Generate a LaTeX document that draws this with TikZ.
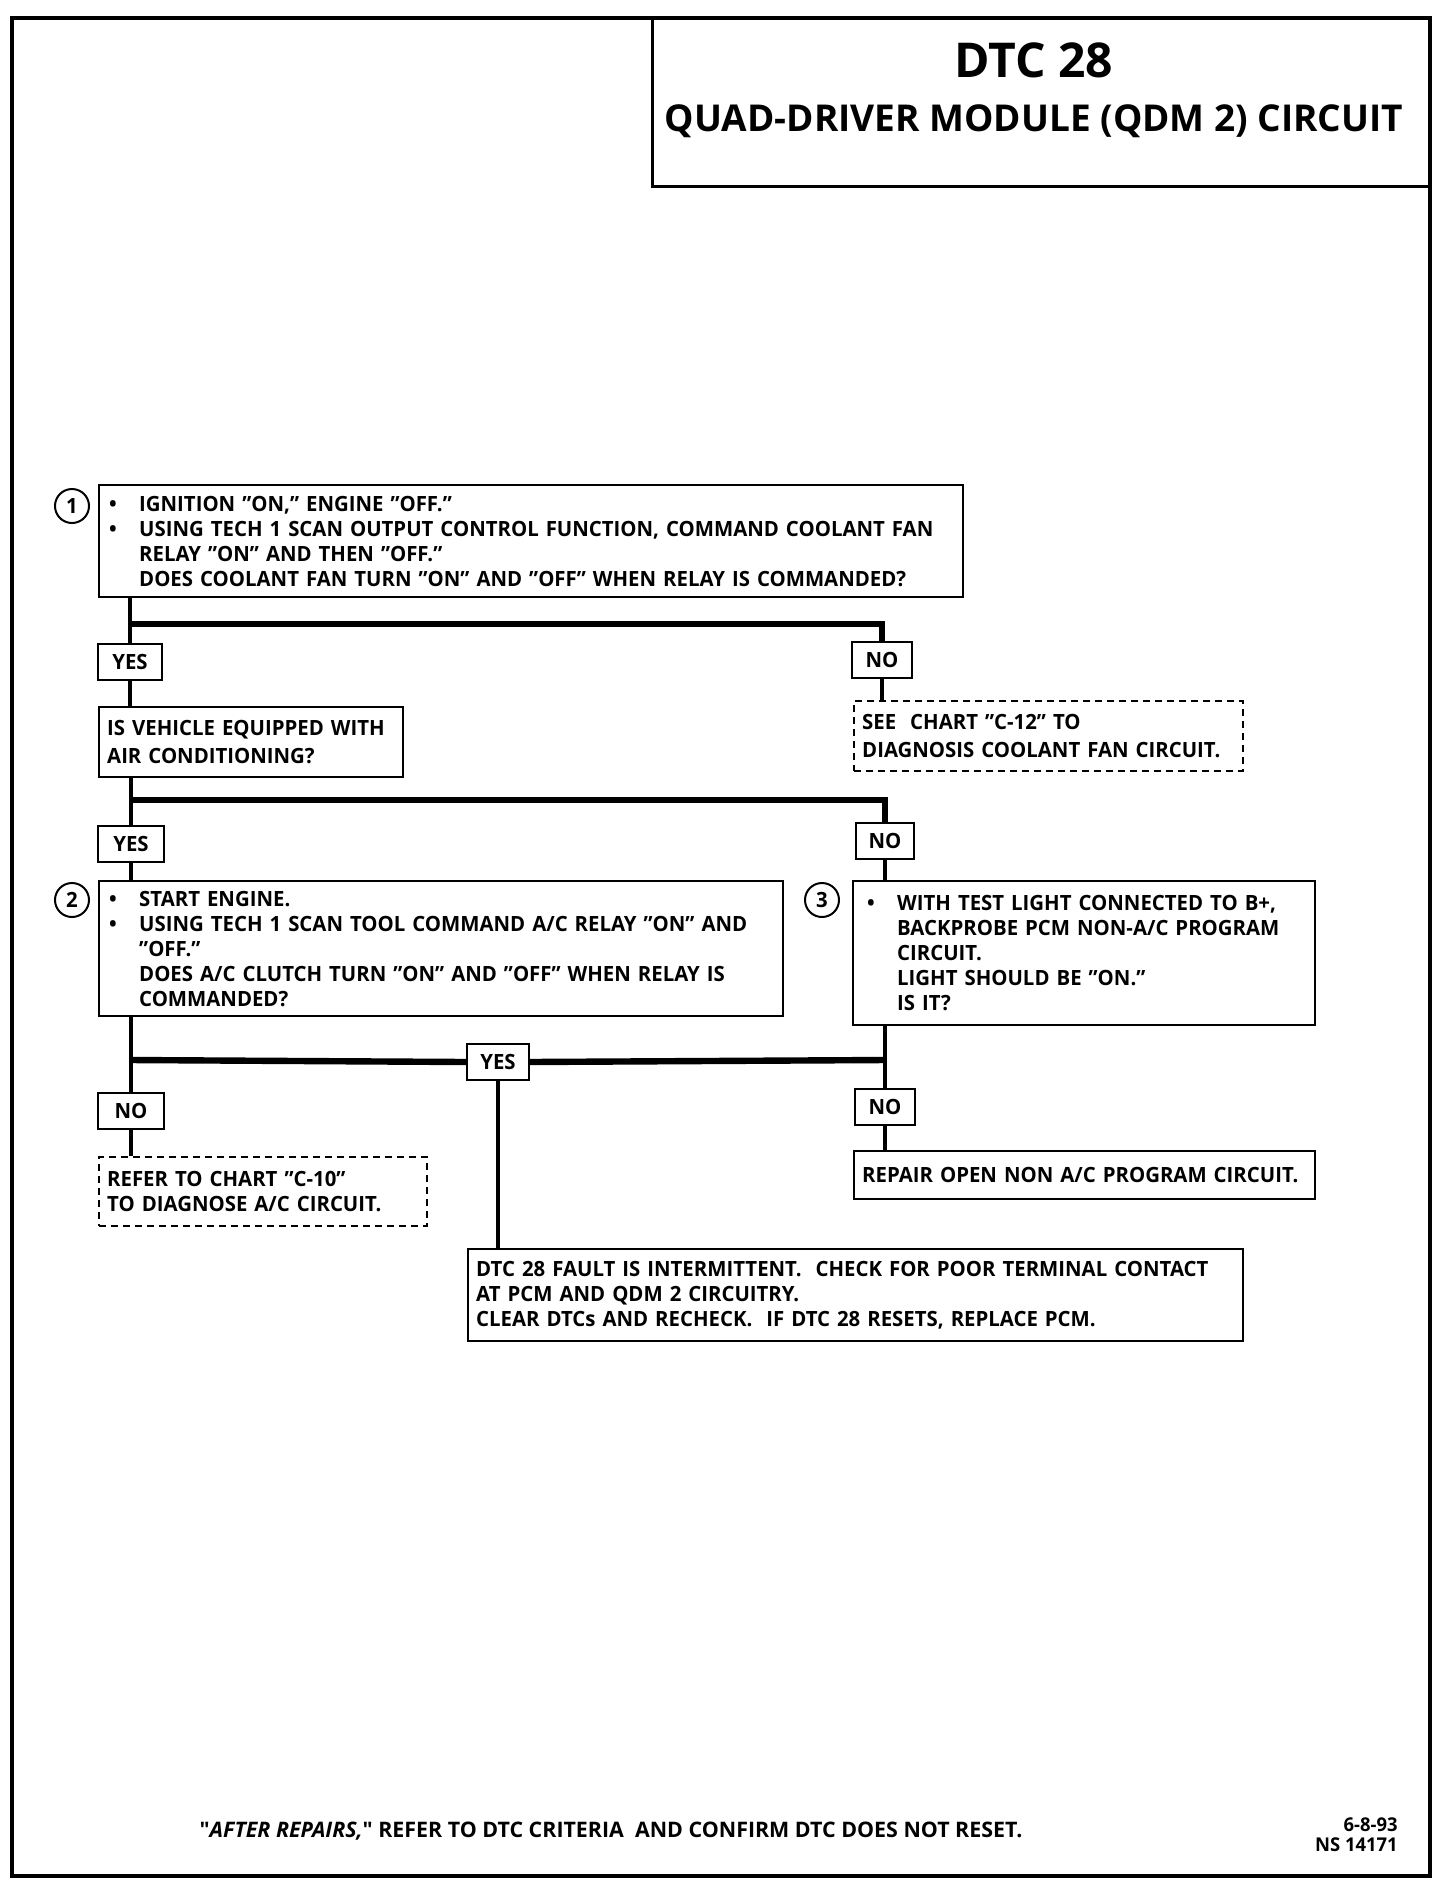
\documentclass[tikz,border=0pt]{standalone}
\usepackage{fontspec}
\setmainfont{Open Sans}[FakeStretch=0.97]
\newfontfamily\titlefont{Open Sans}
\newcommand\bul{\makebox[15pt][l]{\textbullet}}
\newcommand\ind{\hspace*{15pt}}

\begin{document}
\begin{tikzpicture}[x=0.5pt,y=-0.5pt,
  every node/.style={font=\fontsize{10.5}{12.5}\selectfont\bfseries},
  box/.style={draw,line width=1.2pt,anchor=north west,align=left,inner xsep=4pt,inner ysep=0pt},
  dbox/.style={box,dash pattern=on 3.5pt off 2.5pt},
  tag/.style={draw,line width=1.2pt,minimum width=31pt,minimum height=18pt,inner sep=0pt},
  num/.style={draw,circle,line width=1pt,minimum size=17pt,inner sep=0pt},
  wire/.style={line width=2.4pt},
  bus/.style={line width=3.2pt}]
\useasboundingbox (0,0) rectangle (1440,1886); % page size
\draw[line width=2pt] (12,18) rectangle (1430,1876);
\draw[line width=1.5pt] (652,18) rectangle (1430,186);
\node[font=\fontsize{24}{28}\selectfont\titlefont\bfseries] (dtc) at (1034,60) {DTC 28};
\node[font=\fontsize{18.5}{20}\selectfont\titlefont\bfseries] (qdm) at (1034,121) {QUAD-DRIVER MODULE (QDM 2) CIRCUIT};

\node[num] (n1) at (72,506) {1};
\node[box,text width=422pt,minimum height=56pt,inner xsep=5pt] (q1) at (98,484)
  {\bul IGNITION "ON," ENGINE "OFF."\\
   \bul USING TECH 1 SCAN OUTPUT CONTROL FUNCTION, COMMAND COOLANT FAN\\
   \ind RELAY "ON" AND THEN "OFF."\\
   \ind DOES COOLANT FAN TURN "ON" AND "OFF" WHEN RELAY IS COMMANDED?};
\node[tag,minimum width=32pt] (yes1) at (130,662) {YES};
\node[tag,minimum width=30pt] (no1) at (882,660) {NO};
\node[box,text width=144pt,minimum height=35pt,font=\fontsize{10.5}{14}\selectfont\bfseries] (qac) at (98,706)
  {IS VEHICLE EQUIPPED WITH\\ AIR CONDITIONING?};
\node[dbox,text width=186.5pt,minimum height=35pt,font=\fontsize{10.5}{14}\selectfont\bfseries] (c12) at (853,700)
  {SEE\ \ CHART "C-12" TO\\ DIAGNOSIS COOLANT FAN CIRCUIT.};
\coordinate (b1) at (130,624);
\draw[wire] (yes1.north |- q1.south) -- (yes1.north);
\draw[bus] (b1) -| (no1.north);
\draw[wire] (yes1.south) -- (yes1.south |- qac.north);
\draw[wire] (no1.south) -- (no1.south |- c12.north);

\node[tag,minimum width=33pt] (yes2) at (131,844) {YES};
\node[tag,minimum width=29pt] (no2) at (885,841) {NO};
\node[num] (n2) at (72,900) {2};
\node[box,text width=332pt,minimum height=67.5pt,inner xsep=5pt] (q2) at (98,880)
  {\bul START ENGINE.\\
   \bul USING TECH 1 SCAN TOOL COMMAND A/C RELAY "ON" AND\\
   \ind "OFF."\\
   \ind DOES A/C CLUTCH TURN "ON" AND "OFF" WHEN RELAY IS\\
   \ind COMMANDED?};
\node[num] (n3) at (822,900) {3};
\node[box,text width=217pt,minimum height=72pt,inner xsep=7pt] (q3) at (852,880)
  {\bul WITH TEST LIGHT CONNECTED TO B+,\\
   \ind BACKPROBE PCM NON-A/C PROGRAM\\
   \ind CIRCUIT.\\
   \ind LIGHT SHOULD BE "ON."\\
   \ind IS IT?};
\coordinate (b2) at (131,800);
\draw[wire] (yes2.north |- qac.south) -- (yes2.north);
\draw[bus] (b2) -| (no2.north);
\draw[wire] (yes2.south) -- (yes2.south |- q2.north);
\draw[wire] (no2.south) -- (no2.south |- q3.north);

\node[tag] (yes3) at (498,1062) {YES};
\node[tag,minimum width=33pt] (no4) at (131,1111) {NO};
\node[tag,minimum width=30pt] (no3) at (885,1107) {NO};
\node[dbox,text width=156pt,minimum height=34.5pt] (c10) at (98,1156)
  {REFER TO CHART "C-10"\\ TO DIAGNOSE A/C CIRCUIT.};
\node[box,text width=222.5pt,minimum height=24pt] (repair) at (853,1150)
  {REPAIR OPEN NON A/C PROGRAM CIRCUIT.};
\node[box,text width=379.5pt,minimum height=46pt] (intermit) at (467,1248)
  {DTC 28 FAULT IS INTERMITTENT.\ \ CHECK FOR POOR TERMINAL CONTACT\\
   AT PCM AND QDM 2 CIRCUITRY.\\
   CLEAR DTCs AND RECHECK.\ \ IF DTC 28 RESETS, REPLACE PCM.};
\coordinate (b3) at (131,1060);
\draw[wire] (no4.north |- q2.south) -- (no4.north);
\draw[wire] (no3.north |- q3.south) -- (no3.north);
\draw[bus] (b3) -- (yes3.west) (yes3.east) -- (b3 -| no3);
\draw[wire] (yes3.south) -- (yes3.south |- intermit.north);
\draw[wire] (no4.south) -- (no4.south |- c10.north);
\draw[wire] (no3.south) -- (no3.south |- repair.north);

\node[font=\fontsize{10.7}{12}\selectfont\titlefont\bfseries] (after) at (611,1831)
  {"\textit{AFTER REPAIRS,}" REFER TO DTC CRITERIA\ \ AND CONFIRM DTC DOES NOT RESET.};
\node[anchor=north east,align=right,inner sep=0pt,font=\fontsize{9.5}{10}\selectfont\bfseries] (date) at (1398,1817)
  {6-8-93\\ NS 14171};
\end{tikzpicture}
\end{document}
